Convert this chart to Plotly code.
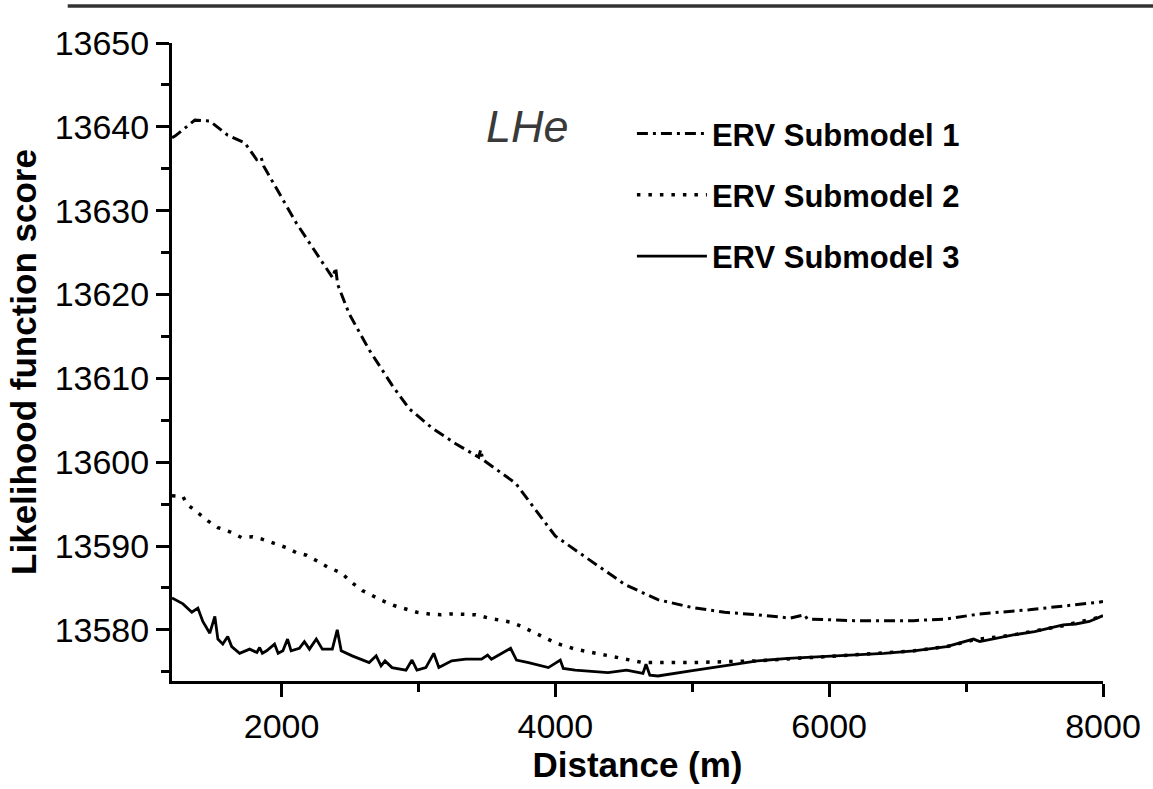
import plotly.graph_objects as go

# ---- data ----
x_sub1 = [1200, 1222, 1367, 1476, 1607, 1731, 1818, 1850, 1870, 1998, 2109, 2373, 2395, 2410,
          2494, 2640, 2807, 2931, 3098, 3272, 3440, 3455, 3470, 3709, 3999, 4262, 4509, 4749,
          4989, 5236, 5476, 5716, 5820, 5840, 6182, 6618, 6858, 7098, 7462, 7971, 8000]
y_sub1 = [13638.7, 13638.9, 13640.8, 13640.7, 13639.0, 13638.1, 13636.1, 13636.4, 13635.3,
          13631.7, 13628.5, 13622.0, 13623.2, 13621.2, 13617.7, 13613.4, 13609.2, 13606.4,
          13604.1, 13602.2, 13600.6, 13601.5, 13600.3, 13597.5, 13591.2, 13588.2, 13585.4,
          13583.6, 13582.7, 13582.1, 13581.8, 13581.4, 13581.8, 13581.3, 13581.1, 13581.1,
          13581.3, 13581.9, 13582.4, 13583.3, 13583.4]

x_sub2 = [1200, 1280, 1309, 1382, 1462, 1535, 1622, 1709, 1789, 1862, 1949, 2036, 2109, 2182,
          2262, 2334, 2436, 2509, 2589, 2662, 2734, 2822, 2909, 2989, 3076, 3163, 3243, 3331,
          3418, 3513, 3600, 3680, 3753, 3840, 3927, 4007, 4145, 4335, 4640, 4990, 5476, 5963,
          6182, 6618, 6858, 7054, 7345, 7709, 8000]
y_sub2 = [13596.0, 13595.9, 13595.0, 13594.0, 13593.0, 13592.2, 13591.7, 13591.0, 13591.1,
          13590.8, 13590.3, 13589.8, 13589.2, 13588.9, 13588.2, 13587.5, 13586.8, 13585.7,
          13584.7, 13584.1, 13583.5, 13582.9, 13582.5, 13582.1, 13581.9, 13581.8, 13581.9,
          13581.9, 13581.8, 13581.4, 13581.1, 13580.9, 13580.4, 13579.7, 13579.0, 13578.4,
          13577.7, 13577.1, 13576.1, 13576.1, 13576.3, 13576.8, 13577.0, 13577.5, 13578.0,
          13578.8, 13579.4, 13580.5, 13581.6]

x_sub3 = [1200, 1222, 1280, 1345, 1389, 1425, 1476, 1513, 1535, 1571, 1607, 1636, 1694, 1767,
          1820, 1840, 1860, 1891, 1949, 1975, 2010, 2044, 2070, 2130, 2167, 2204, 2254, 2298,
          2371, 2407, 2436, 2516, 2640, 2691, 2727, 2756, 2807, 2909, 2953, 2989, 3054, 3112,
          3149, 3243, 3345, 3461, 3505, 3533, 3673, 3716, 3804, 3949, 4036, 4058, 4145, 4385,
          4520, 4640, 4662, 4690, 4749, 4989, 5236, 5476, 5700, 5963, 6182, 6400, 6618, 6858,
          7054, 7100, 7345, 7500, 7709, 7800, 7900, 8000]
y_sub3 = [13583.8, 13583.6, 13583.1, 13582.1, 13582.6, 13581.0, 13579.6, 13581.6, 13578.9,
          13578.3, 13579.2, 13578.0, 13577.2, 13577.7, 13577.3, 13577.9, 13577.2, 13577.5,
          13578.3, 13577.2, 13577.5, 13578.9, 13577.5, 13577.8, 13578.6, 13577.7, 13578.9,
          13577.7, 13577.7, 13580.0, 13577.5, 13576.9, 13576.1, 13576.9, 13575.7, 13576.3,
          13575.5, 13575.2, 13576.4, 13575.2, 13575.5, 13577.2, 13575.5, 13576.3, 13576.5,
          13576.5, 13577.0, 13576.5, 13577.8, 13576.4, 13576.1, 13575.5, 13576.4, 13575.4,
          13575.2, 13574.9, 13575.2, 13574.8, 13575.9, 13574.6, 13574.5, 13575.1, 13575.7,
          13576.3, 13576.6, 13576.8, 13577.0, 13577.2, 13577.5, 13578.0, 13578.9, 13578.6,
          13579.4, 13579.8, 13580.6, 13580.7, 13581.0, 13581.7]

series_names = ["ERV Submodel 1", "ERV Submodel 2", "ERV Submodel 3"]
x_range = [1200, 8000]
y_range = [13573.9, 13650]
x_tickvals = [2000, 4000, 6000, 8000]
y_tickvals = [13580, 13590, 13600, 13610, 13620, 13630, 13640, 13650]

FONT = "Liberation Sans, Arial, Helvetica, sans-serif"

fig = go.Figure()
fig.add_trace(go.Scatter(x=x_sub1, y=y_sub1, mode="lines", name=series_names[0],
                         legendgroup="a",
                         line=dict(color="black", width=3, dash="11px,5px,3px,5px")))
fig.add_trace(go.Scatter(x=x_sub2, y=y_sub2, mode="lines", name=series_names[1],
                         legendgroup="b",
                         line=dict(color="black", width=3.5, dash="3.5px,8px")))
fig.add_trace(go.Scatter(x=x_sub3, y=y_sub3, mode="lines", name=series_names[2],
                         legendgroup="c",
                         line=dict(color="black", width=2.8)))

axis_common = dict(
    showline=True, linewidth=3, linecolor="black", mirror=False,
    showgrid=False, zeroline=False,
    ticks="outside", ticklen=13, tickwidth=3, tickcolor="black",
    tickfont=dict(family=FONT, size=34, color="black"),
    tickformat="d",
)

fig.update_xaxes(range=x_range, tickvals=x_tickvals, **axis_common,
                 minor=dict(dtick=1000, ticks="outside", ticklen=8, tickwidth=3,
                            tickcolor="black", showgrid=False),
                 title=dict(text="Distance (m)", standoff=8,
                            font=dict(family=FONT, size=35, color="black", weight="bold")))
fig.update_yaxes(range=y_range, tickvals=y_tickvals, **axis_common,
                 minor=dict(dtick=5, ticks="outside", ticklen=8, tickwidth=3,
                            tickcolor="black", showgrid=False),
                 title=dict(text="Likelihood function score", standoff=8,
                            font=dict(family=FONT, size=35, color="black", weight="bold")))

fig.add_annotation(x=3797, y=13640.0, xref="x", yref="y", text="<i>LHe</i>",
                   showarrow=False, font=dict(family=FONT, size=45, color="#3a3a3a"),
                   xanchor="center", yanchor="middle")

# top rule of the figure panel
fig.add_shape(type="line", xref="paper", yref="paper", x0=-0.112, x1=1.06, y0=1.058, y1=1.058,
              line=dict(color="#333333", width=3.5))

fig.update_layout(
    width=1153, height=789,
    margin=dict(l=172, r=46, t=43, b=93),
    paper_bgcolor="white", plot_bgcolor="white",
    showlegend=True,
    legend=dict(x=0.494, y=0.9, xanchor="left", yanchor="top",
                font=dict(family=FONT, size=31, color="black", weight="bold"),
                tracegroupgap=18, bgcolor="rgba(0,0,0,0)", itemwidth=70),
)

fig.write_html("out.html")
